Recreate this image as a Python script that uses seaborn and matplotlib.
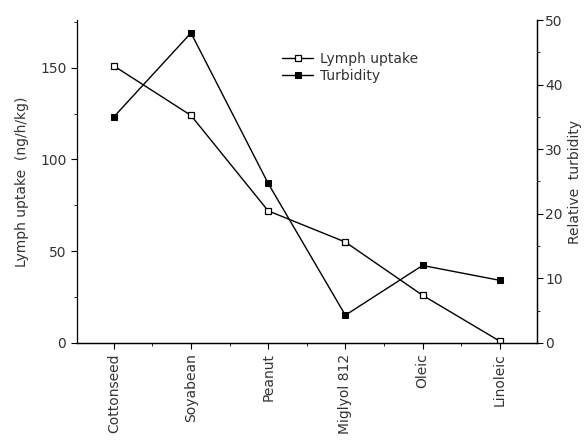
import matplotlib
matplotlib.use("Agg")
import matplotlib.pyplot as plt
import seaborn as sns
import numpy as np
from matplotlib.ticker import MultipleLocator

# data
oils = ["Cottonseed", "Soyabean", "Peanut", "Miglyol 812", "Oleic", "Linoleic"]
lymph_uptake = [151, 124, 72, 55, 26, 1]
turbidity = [35, 48, 24.7, 4.3, 12, 9.7]

sns.set_theme(style="ticks")
plt.rcParams["font.family"] = ["DejaVu Sans"]

fig = plt.figure(figsize=(5.86, 4.4), dpi=100)
ax = fig.add_axes([0.131, 0.2205, 0.785, 0.734])
ax2 = ax.twinx()

x = np.arange(len(oils))
sns.lineplot(x=x, y=lymph_uptake, ax=ax, color="black", lw=1.0, marker="s",
             markersize=5, markerfacecolor="white", markeredgecolor="black",
             markeredgewidth=0.9, label="Lymph uptake", legend=False)
sns.lineplot(x=x, y=turbidity, ax=ax2, color="black", lw=1.0, marker="s",
             markersize=5, markerfacecolor="black", markeredgecolor="black",
             label="Turbidity", legend=False)

ax.set_xlim(-0.48, 5.48)
ax.set_ylim(0, 176)
ax2.set_ylim(0, 50)

ax.set_xticks(x)
ax.set_xticklabels(oils, rotation=90, fontsize=10, color="#333333")
ax.set_yticks([0, 50, 100, 150])
ax.yaxis.set_minor_locator(MultipleLocator(25))
ax2.set_yticks([0, 10, 20, 30, 40, 50])
ax2.yaxis.set_minor_locator(MultipleLocator(5))
ax.xaxis.set_minor_locator(MultipleLocator(0.5))

for a in (ax, ax2):
    a.tick_params(which="major", length=4, width=0.8, colors="black",
                  labelsize=10, labelcolor="#333333")
    a.tick_params(which="minor", length=2, width=0.6, colors="black")
    a.spines["top"].set_visible(False)
    for s in a.spines.values():
        s.set_linewidth(0.9)
        s.set_color("black")
ax2.spines["left"].set_visible(False)
ax.spines["right"].set_visible(True)
ax2.tick_params(axis="y", pad=2)

ax.set_ylabel("Lymph uptake  (ng/h/kg)", fontsize=10, color="#333333", labelpad=8)
ax2.set_ylabel("Relative  turbidity", fontsize=10, color="#333333", labelpad=4)

h1, l1 = ax.get_legend_handles_labels()
h2, l2 = ax2.get_legend_handles_labels()
ax.legend(h1 + h2, l1 + l2, loc="upper left", bbox_to_anchor=(0.42, 0.94),
          frameon=False, fontsize=10, handlelength=2.2, handletextpad=0.5,
          labelspacing=0.2, labelcolor="#333333")

fig.savefig("out.png", dpi=100)
